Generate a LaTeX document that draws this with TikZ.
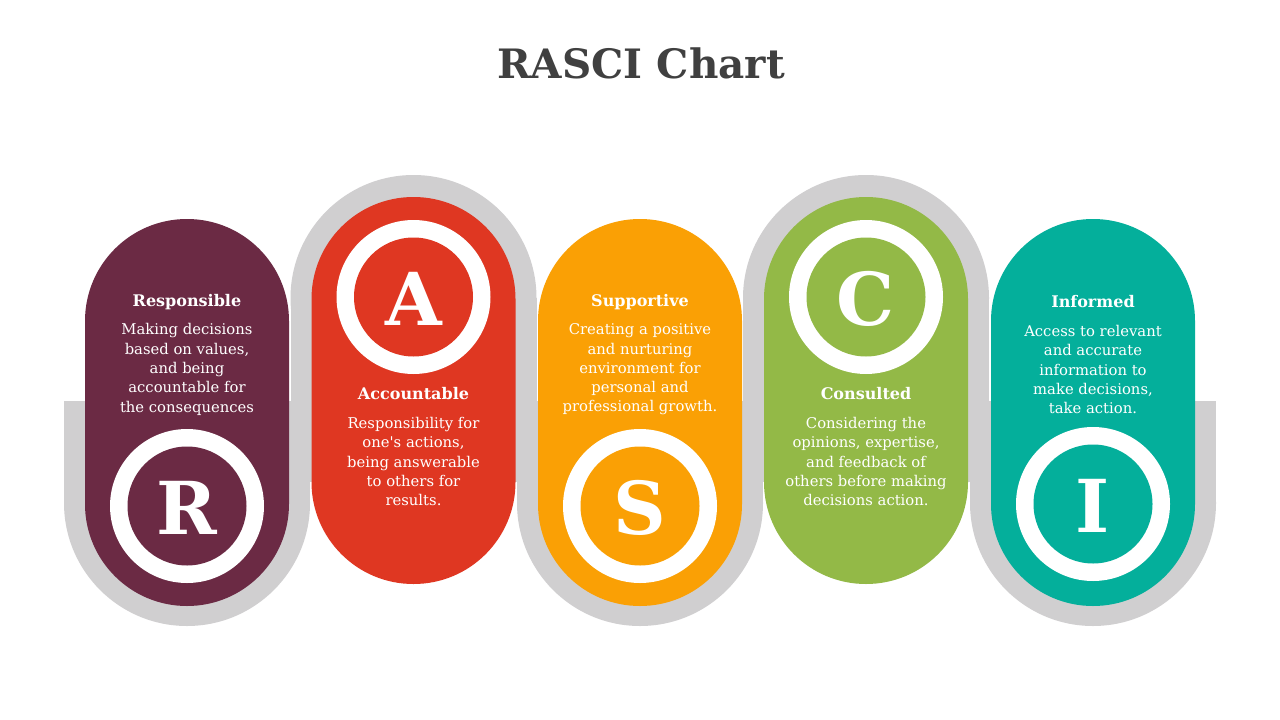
\documentclass[tikz,border=0pt]{standalone}
\usepackage{fontspec}
\setmainfont{DejaVu Serif}
\newfontfamily\nolig{DejaVu Serif}[Ligatures=TeXOff]
\begin{document}
\begin{tikzpicture}[x=1pt,y=-1pt]
\definecolor{cR}{HTML}{6B2A44}
\definecolor{cA}{HTML}{DF3722}
\definecolor{cS}{HTML}{FAA005}
\definecolor{cC}{HTML}{93B947}
\definecolor{cI}{HTML}{04AF9B}
\definecolor{band}{HTML}{D0CFD0}
\definecolor{ttl}{HTML}{404040}
\tikzset{
  headtext/.style={text=white,font=\bfseries\fontsize{16}{19}\selectfont,inner sep=0pt},
  bodytext/.style={text=white,font=\fontsize{14.8}{19.3}\selectfont,align=center,inner sep=0pt},
  lettertext/.style={text=white,font=\bfseries\fontsize{73}{73}\selectfont,inner sep=0pt},
}
\useasboundingbox (0,0) rectangle (1280,720);
\fill[white] (0,0) rectangle (1280,720);
% title
\node[text=ttl,font=\bfseries\fontsize{40.5}{44}\selectfont] (title) at (641,63) {RASCI Chart};
% gray band: lower parts
\foreach \x in {187,640,1093}{
  \fill[band] (\x-123,401) rectangle (\x+123,503);
  \fill[band] (\x,503) circle[radius=123];
}
% gray band: upper parts
\foreach \x in {413.5,866}{
  \fill[band] (\x-123,298) rectangle (\x+123,482);
  \fill[band] (\x,298) circle[radius=123];
}
% pills
\foreach \x/\t/\c in {187/219/cR,413.5/197/cA,640/219/cS,866/197/cC,1093/219/cI}{
  \fill[\c,rounded corners=101.9] (\x-102,\t) rectangle (\x+102,\t+387);
}
% letter circles
\foreach \x/\y/\c/\l/\n in {187/506/cR/R/lR,413.5/297/cA/A/lA,640/506/cS/S/lS,866/297/cC/C/lC,1093/504/cI/I/lI}{
  \fill[white] (\x,\y) circle[radius=77];
  \fill[\c] (\x,\y) circle[radius=59.5];
  \node[lettertext] (\n) at (\x,\y+2) {\l};
}
% texts
\node[headtext] (hR) at (187,302) {Responsible};
\node[bodytext] (bR) at (187,369.5) {Making decisions\\based on values,\\and being\\accountable for\\the consequences};
\node[headtext] (hA) at (413.5,394) {Accountable};
\node[bodytext] (bA) at (413.5,461.5) {Responsibility for\\one{\nolig'}s actions,\\being answerable\\to others for\\results.};
\node[headtext] (hS) at (640,302) {Supportive};
\node[bodytext] (bS) at (640,369.5) {Creating a positive\\and nurturing\\environment for\\personal and\\professional growth.};
\node[headtext] (hC) at (866,394) {Consulted};
\node[bodytext] (bC) at (866,461.5) {Considering the\\opinions, expertise,\\and feedback of\\others before making\\decisions action.};
\node[headtext] (hI) at (1093,302) {Informed};
\node[bodytext] (bI) at (1093,369.5) {Access to relevant\\and accurate\\information to\\make decisions,\\take action.};
\end{tikzpicture}
\end{document}
